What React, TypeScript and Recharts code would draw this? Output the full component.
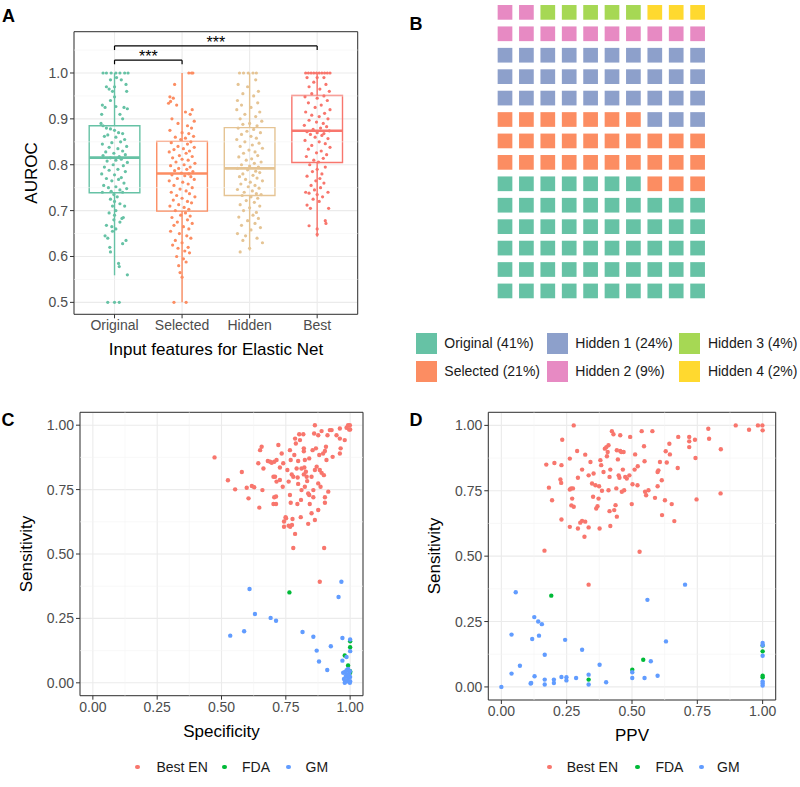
import React from 'react';
import { ScatterChart, Scatter, XAxis, YAxis, CartesianGrid, ReferenceArea, ReferenceLine, ReferenceDot } from 'recharts';

const FONT = '"Liberation Sans", Arial, Helvetica, sans-serif';
const TICK_COLOR = '#4D4D4D';
const BORDER = '#333333';
const GRID_MAJOR = '#EBEBEB';
const GRID_MINOR = '#F4F4F4';

// ---------- Panel A: AUROC by input features ----------
const groupNames = ['Original', 'Selected', 'Hidden', 'Best'];
const groupColors = ['#66C2A5', '#FC8D62', '#E5C494', '#F8766D'];
const boxQ1 = [0.739, 0.699, 0.733, 0.805];
const boxMedian = [0.8155, 0.781, 0.792, 0.874];
const boxQ3 = [0.885, 0.851, 0.881, 0.951];
const whiskerLow = [0.559, 0.5, 0.613, 0.643];
const whiskerHigh = [1, 1, 1, 1];
const aurocTicks = [0.5, 0.6, 0.7, 0.8, 0.9, 1.0];
const aurocMinor = [0.55, 0.65, 0.75, 0.85, 0.95, 1.05];
const sigFrom = [1, 1];
const sigTo = [2, 4];
const sigY = [1.028, 1.059];
const sigLabel = ['***', '***'];

// [jitter offset, AUROC]
const originalPts: number[][] = [
  [-0.17, 1], [-0.12, 1], [-0.05, 1], [0.02, 1], [0.08, 1], [0.15, 1], [0.2, 1],
  [0.03, 0.99], [-0.06, 0.985], [0.1, 0.985], [-0.12, 0.97], [-0.08, 0.965], [0, 0.97], [0.17, 0.975], [0.18, 0.96], [-0.03, 0.96],
  [0, 0.948], [-0.06, 0.94], [-0.18, 0.93], [-0.14, 0.925], [0.02, 0.927], [0.14, 0.925], [0.19, 0.922], [-0.19, 0.91], [0.08, 0.91], [0.12, 0.9],
  [-0.2, 0.89], [-0.17, 0.885], [-0.12, 0.88], [-0.06, 0.878], [0, 0.875], [0.06, 0.87], [0.12, 0.868], [-0.1, 0.865], [-0.15, 0.862], [0.02, 0.86],
  [0.15, 0.855], [0.09, 0.85], [-0.04, 0.848], [-0.18, 0.845], [0.18, 0.84], [-0.08, 0.838], [0.05, 0.835], [0.12, 0.83], [-0.13, 0.828], [-0.01, 0.825],
  [0.16, 0.822], [-0.17, 0.82], [0.07, 0.818], [-0.06, 0.815], [0.1, 0.812], [0.02, 0.81], [-0.11, 0.808], [0.19, 0.805], [-0.02, 0.8], [0.13, 0.798],
  [-0.15, 0.795], [0.05, 0.79], [-0.08, 0.788], [0.16, 0.785], [-0.19, 0.78], [0, 0.778], [0.1, 0.772], [-0.12, 0.77], [0.06, 0.768], [-0.04, 0.765],
  [0.14, 0.76], [-0.16, 0.755], [0.02, 0.752], [-0.09, 0.75], [0.18, 0.748], [0.08, 0.745], [-0.05, 0.742], [0.12, 0.74], [-0.18, 0.74],
  [-0.01, 0.735], [0.04, 0.73], [-0.06, 0.725], [0, 0.72], [0.08, 0.715], [-0.03, 0.71], [0.15, 0.71], [0.02, 0.7], [-0.08, 0.695], [0, 0.69],
  [-0.01, 0.68], [0.11, 0.683], [0.13, 0.685], [-0.12, 0.668], [0.08, 0.675], [-0.04, 0.665], [0.02, 0.66], [-0.14, 0.645], [-0.1, 0.64], [-0.03, 0.655],
  [-0.07, 0.62], [0.12, 0.628], [0.17, 0.635], [-0.06, 0.61], [0.06, 0.585], [0.07, 0.578], [0.19, 0.56], [-0.1, 0.5], [0, 0.5], [0.07, 0.5],
];
const selectedPts: number[][] = [
  [0.1, 1], [0.14, 1], [0.16, 1], [-0.11, 0.975], [-0.18, 0.948], [-0.13, 0.945], [-0.17, 0.938], [-0.2, 0.934], [-0.08, 0.93], [0.15, 0.92],
  [0.05, 0.915], [0.12, 0.91], [-0.15, 0.9], [0.18, 0.895], [-0.06, 0.89], [0.08, 0.885], [0.14, 0.88], [-0.18, 0.875], [0, 0.87], [0.1, 0.868],
  [0.17, 0.862], [-0.1, 0.86], [0.05, 0.858], [-0.02, 0.855], [0.13, 0.85], [-0.16, 0.848], [0.08, 0.845], [-0.06, 0.84], [0.18, 0.838], [0.02, 0.835],
  [-0.12, 0.833], [0.11, 0.83], [-0.19, 0.828], [0.06, 0.825], [-0.04, 0.82], [0.15, 0.818], [-0.14, 0.815], [0, 0.812], [0.09, 0.81], [-0.09, 0.806],
  [0.19, 0.803], [0.03, 0.8], [-0.17, 0.798], [0.12, 0.795], [-0.05, 0.792], [0.07, 0.79], [-0.11, 0.787], [0.16, 0.785], [-0.01, 0.782], [0.1, 0.78],
  [-0.15, 0.778], [0.04, 0.776], [0.13, 0.774], [-0.07, 0.77], [0.18, 0.768], [-0.19, 0.765], [0.01, 0.762], [0.09, 0.758], [-0.12, 0.755], [0.15, 0.75],
  [-0.03, 0.747], [0.06, 0.743], [-0.16, 0.74], [0.11, 0.737], [-0.08, 0.733], [0.19, 0.73], [0, 0.727], [-0.13, 0.723], [0.08, 0.72], [0.14, 0.717],
  [-0.05, 0.713], [-0.18, 0.71], [0.03, 0.707], [0.1, 0.703], [-0.1, 0.7],
  [0.05, 0.695], [-0.02, 0.69], [0.12, 0.688], [-0.15, 0.685], [0.08, 0.68], [-0.07, 0.675], [0.15, 0.672], [-0.12, 0.668], [0.02, 0.665], [0.1, 0.66],
  [-0.17, 0.655], [-0.04, 0.65], [0.07, 0.645], [0.13, 0.64], [-0.1, 0.635], [0, 0.63], [-0.14, 0.625], [0.09, 0.62], [-0.06, 0.618], [0.04, 0.612],
  [0.11, 0.608], [-0.08, 0.6], [0.02, 0.595], [0.06, 0.588], [-0.05, 0.58], [-0.03, 0.565], [0, 0.555], [-0.12, 0.5], [0.06, 0.5],
];
const hiddenPts: number[][] = [
  [-0.15, 1], [-0.09, 1], [-0.02, 1], [0.05, 1], [0.1, 1], [0.09, 0.985], [-0.17, 0.975], [-0.03, 0.97], [0.13, 0.96], [-0.1, 0.955],
  [0.06, 0.95], [-0.18, 0.94], [0.12, 0.935], [-0.12, 0.93], [0.02, 0.925], [-0.19, 0.92], [0.15, 0.915], [-0.07, 0.91], [0.09, 0.905], [-0.14, 0.9],
  [0.18, 0.895], [0, 0.89], [-0.1, 0.888], [0.11, 0.885],
  [-0.17, 0.88], [0.06, 0.877], [-0.04, 0.873], [0.16, 0.87], [-0.12, 0.866], [0.02, 0.862], [0.1, 0.858], [-0.19, 0.855], [-0.07, 0.85], [0.14, 0.847],
  [0.04, 0.843], [-0.14, 0.84], [0.19, 0.836], [-0.01, 0.832], [0.08, 0.828], [-0.09, 0.825], [0.12, 0.82], [-0.16, 0.817], [0.03, 0.813], [-0.05, 0.81],
  [0.17, 0.806], [0.07, 0.803], [-0.12, 0.8], [0, 0.797], [0.13, 0.795], [-0.18, 0.792], [-0.03, 0.789], [0.09, 0.786], [0.15, 0.783], [-0.1, 0.78],
  [0.05, 0.777], [-0.15, 0.774], [0.11, 0.771], [-0.06, 0.768], [0.19, 0.765], [0.01, 0.762], [-0.13, 0.758], [0.08, 0.755], [-0.02, 0.752], [0.14, 0.749],
  [-0.18, 0.746], [0.04, 0.743], [-0.08, 0.74], [0.1, 0.737], [0.17, 0.735], [-0.11, 0.733],
  [0.02, 0.73], [0.12, 0.727], [-0.05, 0.722], [0.07, 0.718], [-0.14, 0.713], [0.15, 0.71], [0, 0.706], [-0.09, 0.7], [0.1, 0.696], [0.05, 0.69],
  [-0.16, 0.686], [0.13, 0.683], [-0.03, 0.678], [0.08, 0.672], [-0.12, 0.668], [0.16, 0.663], [0.02, 0.658], [-0.18, 0.65], [-0.06, 0.645], [0.11, 0.64],
  [-0.1, 0.635], [0.19, 0.63], [-0.14, 0.61], [0, 0.618],
];
const bestPts: number[][] = [
  [-0.17, 1], [-0.13, 1], [-0.09, 1], [-0.05, 1], [-0.01, 1], [0.03, 1], [0.07, 1], [0.11, 1], [0.15, 1], [0.19, 1],
  [-0.15, 0.99], [0, 0.99], [0.1, 0.99], [-0.05, 0.98], [0.13, 0.975], [-0.12, 0.97], [0.04, 0.965], [0.18, 0.96], [-0.08, 0.955], [0.1, 0.95],
  [-0.18, 0.948], [0, 0.945], [0.15, 0.94], [-0.13, 0.935], [0.06, 0.93], [-0.03, 0.925], [0.19, 0.92], [-0.17, 0.915], [0.11, 0.912], [-0.08, 0.908],
  [0.03, 0.905], [0.16, 0.9], [-0.12, 0.897], [-0.01, 0.893], [0.09, 0.89], [-0.19, 0.886], [0.14, 0.883], [0.05, 0.88], [-0.06, 0.877], [0.18, 0.874],
  [-0.15, 0.872], [0, 0.87], [0.1, 0.868], [-0.1, 0.866], [0.07, 0.864], [-0.03, 0.86], [0.16, 0.857], [-0.18, 0.853], [0.03, 0.85], [0.12, 0.846],
  [-0.08, 0.842], [0.19, 0.838], [-0.13, 0.834], [0.06, 0.83], [-0.01, 0.826], [0.14, 0.822], [-0.16, 0.818], [0.09, 0.814], [-0.05, 0.81], [0.02, 0.806],
  [-0.11, 0.8], [0.12, 0.795], [0, 0.79], [-0.07, 0.785], [0.07, 0.78], [-0.15, 0.775], [0.04, 0.77], [-0.02, 0.765], [0.1, 0.76], [-0.09, 0.755],
  [0.05, 0.75], [-0.04, 0.745], [0.16, 0.74], [-0.17, 0.74], [-0.12, 0.738], [0, 0.735], [0.08, 0.73], [-0.06, 0.725], [0.03, 0.72], [-0.15, 0.712],
  [-0.1, 0.705], [0.17, 0.705], [0.12, 0.678], [0.13, 0.672], [-0.12, 0.667], [0, 0.66], [0, 0.648],
];
const groupPts = [originalPts, selectedPts, hiddenPts, bestPts];

// ---------- Panel B: waffle ----------
const waffleNames = ['Original (41%)', 'Selected (21%)', 'Hidden 1 (24%)', 'Hidden 2 (9%)', 'Hidden 3 (4%)', 'Hidden 4 (2%)'];
const waffleCounts = [57, 30, 33, 12, 5, 3];
const waffleColors = ['#66C2A5', '#FC8D62', '#8DA0CB', '#E78AC3', '#A6D854', '#FFD92F'];
const waffleCols = 10;

// ---------- Panel C: Sensitivity vs Specificity ----------
const cBestEN: number[][] = [
  [0.473, 0.875], [0.525, 0.786], [0.553, 0.751], [0.579, 0.818], [0.598, 0.757], [0.605, 0.716], [0.618, 0.764], [0.627, 0.759], [0.647, 0.68], [0.65, 0.903],
  [0.656, 0.916], [0.659, 0.748], [0.663, 0.832], [0.643, 0.852], [0.68, 0.861], [0.695, 0.854], [0.705, 0.858], [0.714, 0.865], [0.721, 0.923], [0.727, 0.836],
  [0.734, 0.89], [0.702, 0.8], [0.708, 0.8], [0.714, 0.781], [0.705, 0.72], [0.712, 0.723], [0.702, 0.694], [0.712, 0.694], [0.738, 0.761], [0.743, 0.626],
  [0.751, 0.639], [0.761, 0.61], [0.767, 0.606], [0.766, 0.903], [0.769, 0.865], [0.761, 0.781], [0.766, 0.729], [0.769, 0.699], [0.773, 0.809], [0.776, 0.636],
  [0.774, 0.613], [0.779, 0.523], [0.786, 0.578], [0.786, 0.948], [0.789, 0.929], [0.783, 0.884], [0.792, 0.832], [0.796, 0.797], [0.795, 0.694], [0.798, 0.772],
  [0.802, 0.965], [0.811, 0.832], [0.809, 0.71], [0.808, 0.643], [0.818, 0.965], [0.82, 0.91], [0.82, 0.899], [0.822, 0.836], [0.82, 0.809], [0.824, 0.761],
  [0.828, 0.819], [0.831, 0.8], [0.833, 0.783], [0.837, 0.617], [0.841, 0.729], [0.841, 0.871], [0.85, 0.658], [0.854, 0.903], [0.857, 0.748], [0.857, 0.72],
  [0.863, 0.826], [0.863, 1], [0.86, 0.968], [0.867, 0.91], [0.87, 0.839], [0.876, 0.961], [0.876, 0.671], [0.882, 0.826], [0.876, 0.774], [0.885, 0.761],
  [0.889, 0.815], [0.889, 0.977], [0.895, 0.89], [0.898, 0.806], [0.902, 0.72], [0.902, 0.699], [0.899, 0.523], [0.902, 0.9], [0.906, 0.916], [0.908, 0.865],
  [0.912, 0.961], [0.915, 0.742], [0.921, 0.981], [0.928, 0.981], [0.932, 0.877], [0.947, 0.961], [0.96, 0.987], [0.96, 0.948], [0.963, 0.91], [0.96, 0.89],
  [0.979, 0.942], [0.992, 1], [0.999, 1], [0.996, 0.983], [0.986, 0.99], [1, 0.983], [0.882, 0.392], [0.88, 0.884], [0.779, 0.8], [0.798, 0.861],
  [0.805, 0.942], [0.74, 0.852], [0.743, 0.606], [0.749, 0.643], [0.756, 0.826], [0.85, 0.8], [0.843, 0.694], [0.863, 0.632], [0.811, 0.748], [0.824, 0.865],
  [0.837, 0.735], [0.727, 0.787], [0.689, 0.858],
];
const cFDA: number[][] = [
  [0.764, 0.351], [0.979, 0.106], [1, 0.138], [1, 0.161], [0.992, 0.067], [1, 0.039], [1, 0.045],
];
const cGM: number[][] = [
  [0.609, 0.364], [0.63, 0.267], [0.691, 0.252], [0.712, 0.241], [0.534, 0.183], [0.588, 0.2], [0.815, 0.197], [0.857, 0.179], [0.925, 0.142], [0.87, 0.125],
  [0.879, 0.083], [0.911, 0.05], [0.966, 0.392], [0.955, 0.333], [0.97, 0.174], [1, 0.168], [1, 0.123], [0.986, 0.1], [0.97, 0.086], [0.973, 0.039],
  [0.979, 0.041], [0.986, 0.049], [0.992, 0.054], [0.999, 0.045], [0.983, 0.026], [0.992, 0.019], [0.986, 0.006], [0.979, 0], [0.999, 0], [0.992, 0.006],
  [1, 0.023], [0.976, 0.015], [0.996, 0.036], [0.989, 0.032], [1, 0.006],
];

// ---------- Panel D: Sensitivity vs PPV ----------
const dBestEN: number[][] = [
  [0.277, 1], [0.172, 0.85], [0.182, 0.762], [0.194, 0.714], [0.203, 0.856], [0.226, 0.793], [0.229, 0.78], [0.23, 0.848], [0.233, 0.945], [0.23, 0.64],
  [0.165, 0.521], [0.262, 0.873], [0.262, 0.755], [0.267, 0.759], [0.271, 0.72], [0.268, 0.694], [0.277, 0.689], [0.274, 0.759], [0.29, 0.902], [0.262, 0.612],
  [0.293, 0.606], [0.293, 0.8], [0.309, 0.831], [0.309, 0.635], [0.302, 0.628], [0.318, 0.574], [0.321, 0.888], [0.321, 0.632], [0.334, 0.809], [0.334, 0.61],
  [0.334, 0.391], [0.341, 0.86], [0.347, 0.778], [0.351, 0.727], [0.353, 0.816], [0.36, 0.771], [0.363, 0.682], [0.368, 0.691], [0.372, 0.72], [0.374, 0.767],
  [0.376, 0.606], [0.379, 0.867], [0.382, 0.848], [0.385, 0.75], [0.391, 0.822], [0.396, 0.911], [0.402, 0.917], [0.404, 0.882], [0.407, 0.898], [0.41, 0.924],
  [0.41, 0.752], [0.414, 0.803], [0.414, 0.672], [0.417, 0.831], [0.417, 0.615], [0.423, 0.978], [0.429, 0.966], [0.432, 0.676], [0.437, 0.695], [0.44, 0.759],
  [0.442, 0.905], [0.442, 0.651], [0.446, 0.87], [0.449, 0.809], [0.452, 0.8], [0.455, 0.962], [0.455, 0.902], [0.459, 0.898], [0.461, 0.746], [0.465, 0.831],
  [0.468, 0.898], [0.47, 0.752], [0.474, 0.803], [0.48, 0.797], [0.49, 0.809], [0.493, 0.956], [0.499, 0.699], [0.502, 0.775], [0.51, 0.831], [0.512, 0.889],
  [0.521, 0.771], [0.522, 0.844], [0.529, 0.517], [0.537, 0.978], [0.546, 0.92], [0.548, 0.863], [0.55, 0.746], [0.554, 0.733], [0.563, 0.752], [0.578, 0.978],
  [0.588, 0.723], [0.598, 0.822], [0.601, 0.828], [0.598, 0.767], [0.607, 0.86], [0.614, 0.79], [0.615, 0.657], [0.626, 0.714], [0.629, 0.901], [0.633, 0.858],
  [0.643, 0.93], [0.645, 0.889], [0.652, 0.699], [0.662, 0.634], [0.675, 0.837], [0.677, 0.956], [0.719, 0.956], [0.719, 0.939], [0.719, 0.917], [0.741, 0.945],
  [0.743, 0.875], [0.747, 0.717], [0.792, 0.987], [0.795, 0.949], [0.84, 0.909], [0.839, 0.74], [0.897, 1], [0.948, 0.983], [0.982, 1], [0.999, 1], [1, 0.981],
];
const dFDA: number[][] = [
  [0.191, 0.349], [0.334, 0.028], [0.501, 0.066], [0.543, 0.104], [1, 0.136], [1, 0.158], [1, 0.043], [1, 0.037],
];
const dGM: number[][] = [
  [0, 0], [0.039, 0.2], [0.039, 0.051], [0.055, 0.362], [0.071, 0.081], [0.112, 0.013], [0.114, 0.015], [0.118, 0.183], [0.126, 0.267], [0.127, 0.041],
  [0.141, 0.25], [0.144, 0.196], [0.155, 0.24], [0.166, 0.123], [0.166, 0.028], [0.166, 0.009], [0.201, 0.028], [0.201, 0.015], [0.23, 0.038], [0.244, 0.18],
  [0.249, 0.037], [0.249, 0.025], [0.286, 0.034], [0.309, 0.142], [0.334, 0.047], [0.334, 0.009], [0.376, 0.085], [0.401, 0.018], [0.501, 0.056], [0.501, 0.034],
  [0.548, 0.034], [0.559, 0.333], [0.572, 0.098], [0.598, 0.043], [0.63, 0.174], [0.703, 0.391], [1, 0.168], [1, 0.159], [1, 0.119], [1, 0.021], [1, 0.013], [1, 0.005],
];

const seriesNames = ['Best EN', 'FDA', 'GM'];
const seriesColors = ['#F8766D', '#00BA38', '#619CFF'];
const unitTicks = [0, 0.25, 0.5, 0.75, 1];
const unitMinor = [0.125, 0.375, 0.625, 0.875];

// ---------- helpers ----------
const toXY = (pts: number[][]) => pts.map(([x, y]) => ({ x, y }));
const dot = (r: number, color: string) => (props: any) =>
  props.cx == null ? <g /> : <circle cx={props.cx} cy={props.cy} r={r} fill={color} />;

const tickStyle = { fill: TICK_COLOR, fontSize: 14, fontFamily: FONT };

function Txt(props: { x: number; y: number; text: string; size: number; rot?: number; bold?: boolean; color?: string; align?: 'center' | 'left' }) {
  const { x, y, text, size, rot = 0, bold, color = '#000', align = 'center' } = props;
  const tr = align === 'center' ? `translate(-50%,-50%) rotate(${rot}deg)` : `translateY(-50%)`;
  return (
    <div
      style={{
        position: 'absolute', left: x, top: y, transform: tr, whiteSpace: 'nowrap',
        fontSize: size, lineHeight: 1, fontWeight: bold ? 700 : 400, color, fontFamily: FONT,
      }}
    >
      {text}
    </div>
  );
}

function PanelA() {
  const yDom: [number, number] = [0.474, 1.09];
  const xDom: [number, number] = [0.4, 4.6];
  const hw = 0.375;
  return (
    <div style={{ position: 'absolute', left: 0, top: 0 }}>
      <ScatterChart width={400} height={380} margin={{ top: 31.7, right: 42.3, bottom: 35.7, left: 0 }} style={{ fontFamily: FONT }}>
        <CartesianGrid stroke={GRID_MAJOR} strokeWidth={1.1} />
        {aurocMinor.map((v) => (
          <ReferenceLine key={'m' + v} y={v} stroke={GRID_MINOR} strokeWidth={0.6} ifOverflow="visible" />
        ))}
        <XAxis
          type="number" dataKey="x" domain={xDom} ticks={[1, 2, 3, 4]} interval={0} allowDataOverflow
          tickFormatter={(v: number) => groupNames[Math.round(v) - 1] ?? ''}
          height={30} tickSize={4} axisLine={false} tickLine={{ stroke: BORDER }} tick={tickStyle}
        />
        <YAxis
          type="number" dataKey="y" domain={yDom} ticks={aurocTicks} interval={0} allowDataOverflow
          tickFormatter={(v: number) => v.toFixed(1)}
          width={74} tickSize={4} axisLine={false} tickLine={{ stroke: BORDER }} tick={tickStyle}
        />
        {groupNames.map((g, i) => (
          <ReferenceArea key={'box' + g} x1={i + 1 - hw} x2={i + 1 + hw} y1={boxQ1[i]} y2={boxQ3[i]}
            fill="#FFFFFF" fillOpacity={0} stroke={groupColors[i]} strokeWidth={1.4} ifOverflow="visible" />
        ))}
        {groupNames.map((g, i) => (
          <ReferenceLine key={'med' + g} segment={[{ x: i + 1 - hw, y: boxMedian[i] }, { x: i + 1 + hw, y: boxMedian[i] }]}
            stroke={groupColors[i]} strokeWidth={2.6} ifOverflow="visible" />
        ))}
        {groupNames.map((g, i) => (
          <ReferenceLine key={'wh' + g} segment={[{ x: i + 1, y: boxQ3[i] }, { x: i + 1, y: whiskerHigh[i] }]}
            stroke={groupColors[i]} strokeWidth={1.4} ifOverflow="visible" />
        ))}
        {groupNames.map((g, i) => (
          <ReferenceLine key={'wl' + g} segment={[{ x: i + 1, y: whiskerLow[i] }, { x: i + 1, y: boxQ1[i] }]}
            stroke={groupColors[i]} strokeWidth={1.4} ifOverflow="visible" />
        ))}
        {groupNames.map((g, i) => (
          <Scatter key={'pts' + g} name={g} data={groupPts[i].map(([dx, v]) => ({ x: i + 1 + dx, y: v }))}
            shape={dot(1.6, groupColors[i])} isAnimationActive={false} />
        ))}
        {sigFrom.map((f, k) => (
          <ReferenceLine key={'sig' + k} segment={[{ x: f, y: sigY[k] }, { x: sigTo[k], y: sigY[k] }]} stroke="#000" strokeWidth={1.2} ifOverflow="visible" />
        ))}
        {sigFrom.map((f, k) => (
          <ReferenceLine key={'sigl' + k} segment={[{ x: f, y: sigY[k] - 0.009 }, { x: f, y: sigY[k] }]} stroke="#000" strokeWidth={1.2} ifOverflow="visible" />
        ))}
        {sigFrom.map((f, k) => (
          <ReferenceLine key={'sigr' + k} segment={[{ x: sigTo[k], y: sigY[k] - 0.009 }, { x: sigTo[k], y: sigY[k] }]} stroke="#000" strokeWidth={1.2} ifOverflow="visible" />
        ))}
        {sigFrom.map((f, k) => (
          <ReferenceDot key={'sigt' + k} x={(f + sigTo[k]) / 2} y={sigY[k] - 0.007} r={1} fill="none" stroke="none" ifOverflow="visible"
            label={{ value: sigLabel[k], position: 'top', offset: 0, fill: '#000', fontSize: 16, fontFamily: FONT }} />
        ))}
        <ReferenceArea x1={xDom[0]} x2={xDom[1]} y1={yDom[0]} y2={yDom[1]} fill="none" stroke={BORDER} strokeWidth={1} ifOverflow="visible" />
      </ScatterChart>
    </div>
  );
}

function PanelB() {
  const cells: { x: number; y: number; color: string }[] = [];
  let idx = 0;
  waffleCounts.forEach((n, c) => {
    for (let k = 0; k < n; k++) {
      cells.push({ x: (idx % waffleCols) + 1, y: Math.floor(idx / waffleCols) + 1, color: waffleColors[c] });
      idx++;
    }
  });
  const rows = Math.ceil(idx / waffleCols);
  const sq = 14.7;
  const square = (props: any) =>
    props.cx == null ? <g /> : <rect x={props.cx - sq / 2} y={props.cy - sq / 2} width={sq} height={sq} fill={props.payload.color} />;
  return (
    <div style={{ position: 'absolute', left: 400, top: 0 }}>
      <ScatterChart width={400} height={310} margin={{ top: 1.65, right: 91.7, bottom: 8.35, left: 94.3 }}>
        <XAxis type="number" dataKey="x" domain={[0.5, waffleCols + 0.5]} hide />
        <YAxis type="number" dataKey="y" domain={[0.5, rows + 0.5]} hide />
        <Scatter data={cells} shape={square} isAnimationActive={false} />
      </ScatterChart>
    </div>
  );
}

function ScatterPanel(props: {
  left: number; top: number; height: number; margin: { top: number; right: number; bottom: number; left: number };
  yWidth: number; series: number[][][];
}) {
  const dom: [number, number] = [-0.05, 1.05];
  return (
    <div style={{ position: 'absolute', left: props.left, top: props.top }}>
      <ScatterChart width={400} height={props.height} margin={props.margin} style={{ fontFamily: FONT }}>
        <CartesianGrid stroke={GRID_MAJOR} strokeWidth={1.1} />
        {unitMinor.map((v) => (
          <ReferenceLine key={'mx' + v} x={v} stroke={GRID_MINOR} strokeWidth={0.6} ifOverflow="visible" />
        ))}
        {unitMinor.map((v) => (
          <ReferenceLine key={'my' + v} y={v} stroke={GRID_MINOR} strokeWidth={0.6} ifOverflow="visible" />
        ))}
        <XAxis type="number" dataKey="x" domain={dom} ticks={unitTicks} interval={0} allowDataOverflow
          tickFormatter={(v: number) => v.toFixed(2)} height={30} tickSize={4} axisLine={false}
          tickLine={{ stroke: BORDER }} tick={tickStyle} />
        <YAxis type="number" dataKey="y" domain={dom} ticks={unitTicks} interval={0} allowDataOverflow
          tickFormatter={(v: number) => v.toFixed(2)} width={props.yWidth} tickSize={4} axisLine={false}
          tickLine={{ stroke: BORDER }} tick={tickStyle} />
        {props.series.map((s, i) => (
          <Scatter key={seriesNames[i]} name={seriesNames[i]} data={toXY(s)} shape={dot(2.2, seriesColors[i])} isAnimationActive={false} />
        ))}
        <ReferenceArea x1={dom[0]} x2={dom[1]} y1={dom[0]} y2={dom[1]} fill="none" stroke={BORDER} strokeWidth={1} ifOverflow="visible" />
      </ScatterChart>
    </div>
  );
}

function SeriesLegend(props: { dotX: number[]; textX: number[]; y: number }) {
  return (
    <>
      {seriesNames.map((n, i) => (
        <React.Fragment key={n}>
          <div style={{
            position: 'absolute', left: props.dotX[i] - 2.3, top: props.y - 2.3, width: 4.6, height: 4.6,
            borderRadius: '50%', background: seriesColors[i],
          }} />
          <Txt x={props.textX[i]} y={props.y} text={n} size={14} align="left" color="#1A1A1A" />
        </React.Fragment>
      ))}
    </>
  );
}

export default function App() {
  const legendColX = [415.7, 546.7, 679.3];
  const legendRowY = [343.3, 371];
  return (
    <div style={{ position: 'absolute', left: 0, top: 0, width: 800, height: 787, background: '#FFFFFF', overflow: 'hidden', fontFamily: FONT }}>
      <PanelA />
      <Txt x={31} y={173} text="AUROC" size={17} rot={-90} />
      <Txt x={216} y={349} text="Input features for Elastic Net" size={17} />

      <PanelB />
      {waffleNames.map((n, i) => {
        const col = i < 2 ? 0 : i < 4 ? 1 : 2;
        const row = i % 2;
        const x = legendColX[col];
        const y = legendRowY[row];
        return (
          <React.Fragment key={n}>
            <div style={{ position: 'absolute', left: x, top: y - 10.5, width: 21, height: 21, background: waffleColors[i] }} />
            <Txt x={x + 28.6} y={y} text={n} size={14} align="left" color="#1A1A1A" />
          </React.Fragment>
        );
      })}

      <ScatterPanel left={0} top={380} height={360} margin={{ top: 32.3, right: 37, bottom: 14.3, left: 0 }} yWidth={80}
        series={[cBestEN, cFDA, cGM]} />
      <Txt x={26} y={554} text="Sensitivity" size={17} rot={-90} />
      <Txt x={221.5} y={731} text="Specificity" size={17} />
      <SeriesLegend dotX={[137.4, 224.6, 288.7]} textX={[156.4, 242, 305.6]} y={767} />

      <ScatterPanel left={400} top={380} height={360} margin={{ top: 32.3, right: 24.3, bottom: 10, left: 0 }} yWidth={88.3}
        series={[dBestEN, dFDA, dGM]} />
      <Txt x={434} y={556} text="Sensitivity" size={17} rot={-90} />
      <Txt x={632} y={735} text="PPV" size={17} />
      <SeriesLegend dotX={[549.7, 637.4, 701.5]} textX={[566.7, 655.4, 717]} y={767} />

      <Txt x={8.5} y={16} text="A" size={18} bold />
      <Txt x={416} y={23.5} text="B" size={18} bold />
      <Txt x={8} y={420} text="C" size={18} bold />
      <Txt x={416} y={420} text="D" size={18} bold />
    </div>
  );
}
